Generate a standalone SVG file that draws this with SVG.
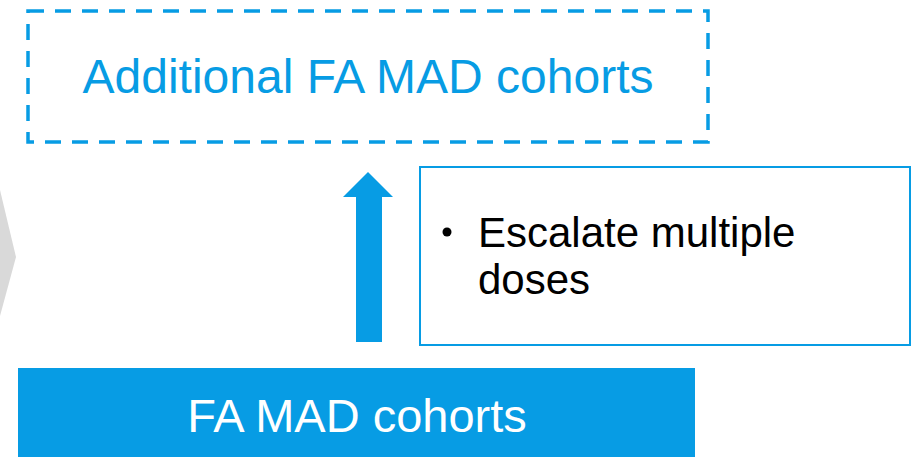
<svg xmlns="http://www.w3.org/2000/svg" width="919" height="457" viewBox="0 0 919 457">
<style>
.t{font-family:"Liberation Sans",Arial,sans-serif}
.blue{fill:#079ce4}
</style>
<rect width="919" height="457" fill="#ffffff"/>
<g id="chevron"><polygon points="-20,190 0,190 16,257 0,316 -20,316" fill="#d9d9d9"/></g>
<g id="additional">
<rect x="28" y="11" width="680" height="131" fill="none" stroke="#079ce4" stroke-width="3.5" stroke-dasharray="16 11"/>
<text class="t" x="368" y="93" font-size="48" text-anchor="middle" fill="#079ce4">Additional FA MAD cohorts</text>
</g>
<g id="escalate">
<rect x="420" y="167" width="490" height="178" fill="#ffffff" stroke="#079ce4" stroke-width="2"/>
<circle cx="447" cy="232" r="4.5" fill="#000"/>
<text class="t" x="478" y="247" font-size="42" fill="#000">Escalate multiple</text>
<text class="t" x="478" y="294" font-size="42" fill="#000">doses</text>
</g>
<g id="famad">
<rect x="18" y="368" width="677" height="95" class="blue"/>
<text class="t" x="357" y="432" font-size="47" text-anchor="middle" fill="#ffffff">FA MAD cohorts</text>
</g>
<g id="connectors">
<polygon points="368,172 393,197 382,197 382,342 356,342 356,197 343,197" class="blue"/>
</g>
</svg>
